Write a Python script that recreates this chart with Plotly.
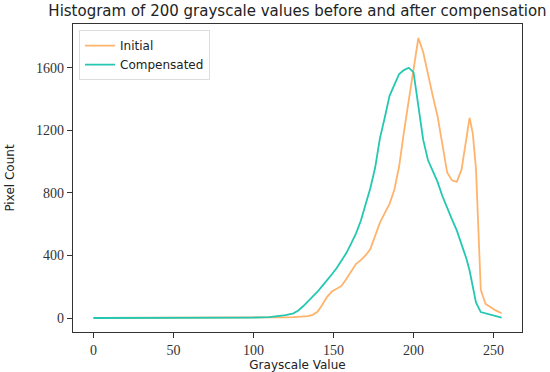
import plotly.graph_objects as go

# Grayscale bins (shared x grid)
grayscale = [0, 20, 40, 60, 80, 100, 110, 115, 120, 125, 128, 131, 134, 137, 140, 143, 146, 149,
             152, 155, 158, 161, 164, 167, 170, 173, 176, 179, 182, 185, 188, 191, 194, 197,
             200, 203, 206, 209, 212, 215, 218, 221, 224, 227, 230, 233, 235, 237, 239, 242,
             245, 248, 251, 255]

initial = [0, 0, 0, 0, 0, 0, 2, 3, 4, 5, 6, 8, 12, 20, 40, 85, 135, 170,
           190, 205, 250, 300, 345, 370, 400, 440, 520, 610, 670, 730, 820, 970, 1190, 1390,
           1600, 1790, 1700, 1550, 1420, 1290, 1120, 930, 880, 870, 950, 1160, 1280, 1180, 955, 180,
           90, 70, 50, 30]

compensated = [0, 0, 0, 0, 0, 3, 5, 10, 18, 30, 48, 75, 105, 137, 168, 205, 240, 280,
               320, 365, 415, 475, 540, 620, 720, 830, 960, 1150, 1280, 1420, 1490, 1560, 1585, 1600,
               1570, 1350, 1140, 1010, 940, 870, 780, 700, 630, 560, 470, 380, 304, 200, 100, 38,
               30, 22, 13, 3]

y_ticks = [0, 400, 800, 1200, 1600]
x_ticks = [0, 50, 100, 150, 200, 250]

fig = go.Figure()
fig.add_trace(go.Scatter(x=grayscale, y=initial, mode="lines", name="Initial",
                         line=dict(color="#ffb36b", width=1.8)))
fig.add_trace(go.Scatter(x=grayscale, y=compensated, mode="lines", name="Compensated",
                         line=dict(color="#24c8b2", width=1.8)))

axis_common = dict(showline=True, mirror=True, linecolor="#333333", linewidth=1.2,
                   showgrid=False, zeroline=False, ticks="outside", ticklen=5,
                   tickcolor="#333333", automargin=False,
                   tickfont=dict(family="Liberation Serif", size=14, color="#333333"))

fig.update_layout(
    width=550, height=372,
    margin=dict(l=73, r=28, t=24, b=40),
    paper_bgcolor="white", plot_bgcolor="white",
    title=dict(text="Histogram of 200 grayscale values before and after compensation",
               xref="paper", x=0.5, xanchor="center", yref="container", y=0.985, yanchor="top",
               font=dict(family="DejaVu Sans", size=15, color="#222222")),
    xaxis=dict(range=[-12.75, 267.75], tickvals=x_ticks,
               title=dict(text="Grayscale Value", standoff=1,
                          font=dict(family="DejaVu Sans", size=12, color="#222222")),
               **axis_common),
    yaxis=dict(range=[-89.5, 1879.5], tickvals=y_ticks,
               title=dict(text="Pixel Count", standoff=18,
                          font=dict(family="DejaVu Sans", size=12, color="#222222")),
               **axis_common),
    legend=dict(x=0.0134, y=0.98, xanchor="left", yanchor="top",
                bgcolor="rgba(255,255,255,0.9)", bordercolor="#dddddd", borderwidth=1,
                font=dict(family="DejaVu Sans", size=12, color="#222222"),
                tracegroupgap=0),
    showlegend=True,
)

fig.write_html("out.html", config={"displayModeBar": False},
               post_script="document.body.style.margin='0';document.body.style.overflow='hidden';")
